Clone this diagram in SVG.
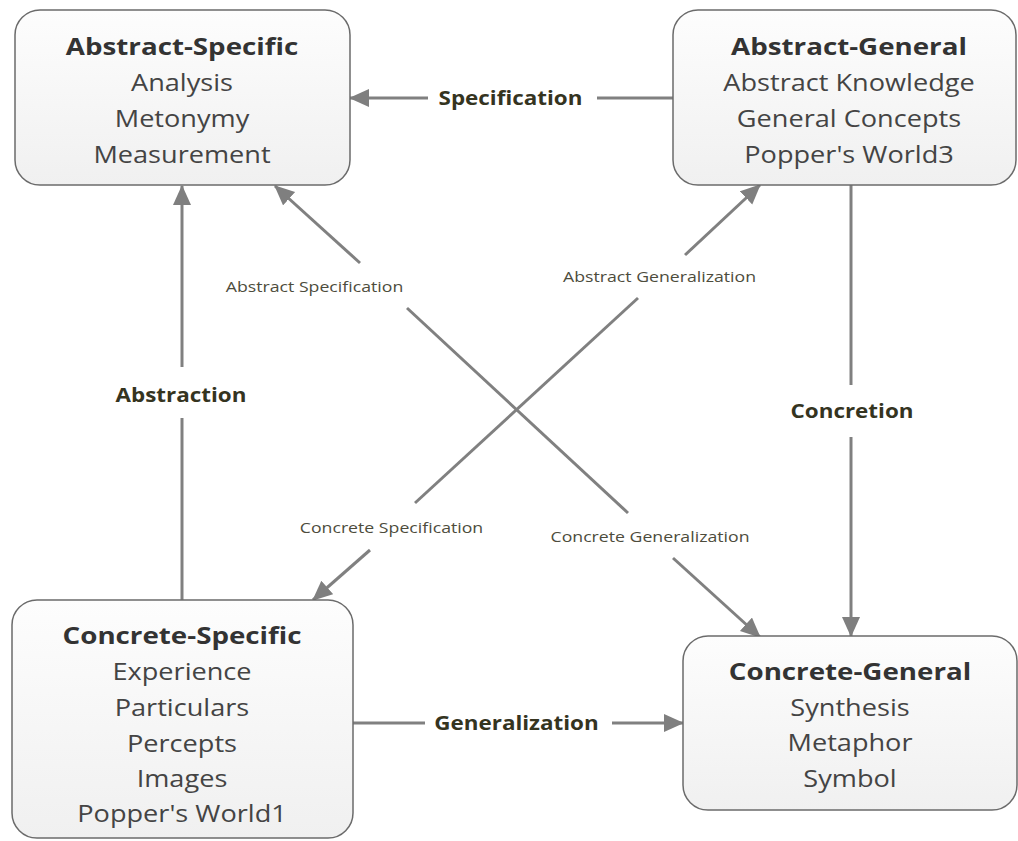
<svg xmlns="http://www.w3.org/2000/svg" width="1018" height="841" viewBox="0 0 1018 841">
<defs>
<linearGradient id="nodeFill" x1="0" y1="0" x2="0" y2="1">
<stop offset="0" stop-color="#fdfdfd"/>
<stop offset="1" stop-color="#f0f0f0"/>
</linearGradient>
<marker id="arrow" markerUnits="userSpaceOnUse" markerWidth="22" markerHeight="20" refX="19" refY="9" orient="auto">
<path d="M0,0 L20,9 L0,18 z" fill="#7f7f7f"/>
</marker>
<style>
.box{fill:url(#nodeFill);stroke:#6b6b6b;stroke-width:1.5}
.title{font-family:"Open Sans","Noto Sans",sans-serif;font-weight:bold;font-size:23.5px;fill:#333;text-anchor:middle}
.body{font-family:"Open Sans","Noto Sans",sans-serif;font-size:23px;fill:#444;text-anchor:middle}
.conn{stroke:#808080;stroke-width:3;fill:none}
.lblb{font-family:"Open Sans","Noto Sans",sans-serif;font-weight:bold;font-size:19px;fill:#35341f;text-anchor:middle}
.lbls{font-family:"Open Sans","Noto Sans",sans-serif;font-size:15px;fill:#4d4c3c;text-anchor:middle}
</style>
</defs>
<rect width="1018" height="841" fill="#fff"/>

<g id="connectors">
<line class="conn" x1="428" y1="98" x2="350" y2="98" marker-end="url(#arrow)"/>
<line class="conn" x1="673" y1="98" x2="597" y2="98"/>
<line class="conn" x1="353" y1="723" x2="425" y2="723"/>
<line class="conn" x1="612" y1="723" x2="683" y2="723" marker-end="url(#arrow)"/>
<line class="conn" x1="182" y1="600" x2="182" y2="418"/>
<line class="conn" x1="182" y1="367" x2="182" y2="186" marker-end="url(#arrow)"/>
<line class="conn" x1="851" y1="185" x2="851" y2="385"/>
<line class="conn" x1="851" y1="437" x2="851" y2="636" marker-end="url(#arrow)"/>
<line class="conn" x1="360" y1="263" x2="275" y2="186" marker-end="url(#arrow)"/>
<line class="conn" x1="407" y1="308" x2="628" y2="513"/>
<line class="conn" x1="673" y1="558" x2="760" y2="637" marker-end="url(#arrow)"/>
<line class="conn" x1="685" y1="255" x2="760" y2="185" marker-end="url(#arrow)"/>
<line class="conn" x1="638" y1="298" x2="415" y2="503"/>
<line class="conn" x1="370" y1="550" x2="313" y2="600" marker-end="url(#arrow)"/>

<g transform="translate(510.5,0) scale(1.18,1)"><text class="lblb" x="0" y="105">Specification</text></g>
<g transform="translate(516.5,0) scale(1.18,1)"><text class="lblb" x="0" y="730">Generalization</text></g>
<g transform="translate(181,0) scale(1.18,1)"><text class="lblb" x="0" y="402">Abstraction</text></g>
<g transform="translate(852,0) scale(1.18,1)"><text class="lblb" x="0" y="418">Concretion</text></g>
<g transform="translate(314.5,0) scale(1.18,1)"><text class="lbls" x="0" y="292">Abstract Specification</text></g>
<g transform="translate(659.5,0) scale(1.18,1)"><text class="lbls" x="0" y="282">Abstract Generalization</text></g>
<g transform="translate(391.5,0) scale(1.18,1)"><text class="lbls" x="0" y="533">Concrete Specification</text></g>
<g transform="translate(650,0) scale(1.18,1)"><text class="lbls" x="0" y="542">Concrete Generalization</text></g>
</g>

<g id="abstract-specific">
<rect class="box" x="15" y="10" width="335" height="175" rx="25"/>
<g transform="translate(182,0) scale(1.18,1)">
<text class="title" x="0" y="55">Abstract-Specific</text>
<text class="body" x="0" y="91">Analysis</text>
<text class="body" x="0" y="127">Metonymy</text>
<text class="body" x="0" y="163">Measurement</text>
</g>
</g>

<g id="abstract-general">
<rect class="box" x="673" y="10" width="343" height="175" rx="25"/>
<g transform="translate(849,0) scale(1.18,1)">
<text class="title" x="0" y="55">Abstract-General</text>
<text class="body" x="0" y="91">Abstract Knowledge</text>
<text class="body" x="0" y="127">General Concepts</text>
<text class="body" x="0" y="163">Popper's World3</text>
</g>
</g>

<g id="concrete-specific">
<rect class="box" x="12" y="600" width="341" height="238" rx="25"/>
<g transform="translate(182,0) scale(1.18,1)">
<text class="title" x="0" y="644">Concrete-Specific</text>
<text class="body" x="0" y="680">Experience</text>
<text class="body" x="0" y="716">Particulars</text>
<text class="body" x="0" y="752">Percepts</text>
<text class="body" x="0" y="787">Images</text>
<text class="body" x="0" y="822">Popper's World1</text>
</g>
</g>

<g id="concrete-general">
<rect class="box" x="683" y="636" width="334" height="174" rx="25"/>
<g transform="translate(850,0) scale(1.18,1)">
<text class="title" x="0" y="680">Concrete-General</text>
<text class="body" x="0" y="716">Synthesis</text>
<text class="body" x="0" y="751">Metaphor</text>
<text class="body" x="0" y="787">Symbol</text>
</g>
</g>
</svg>
